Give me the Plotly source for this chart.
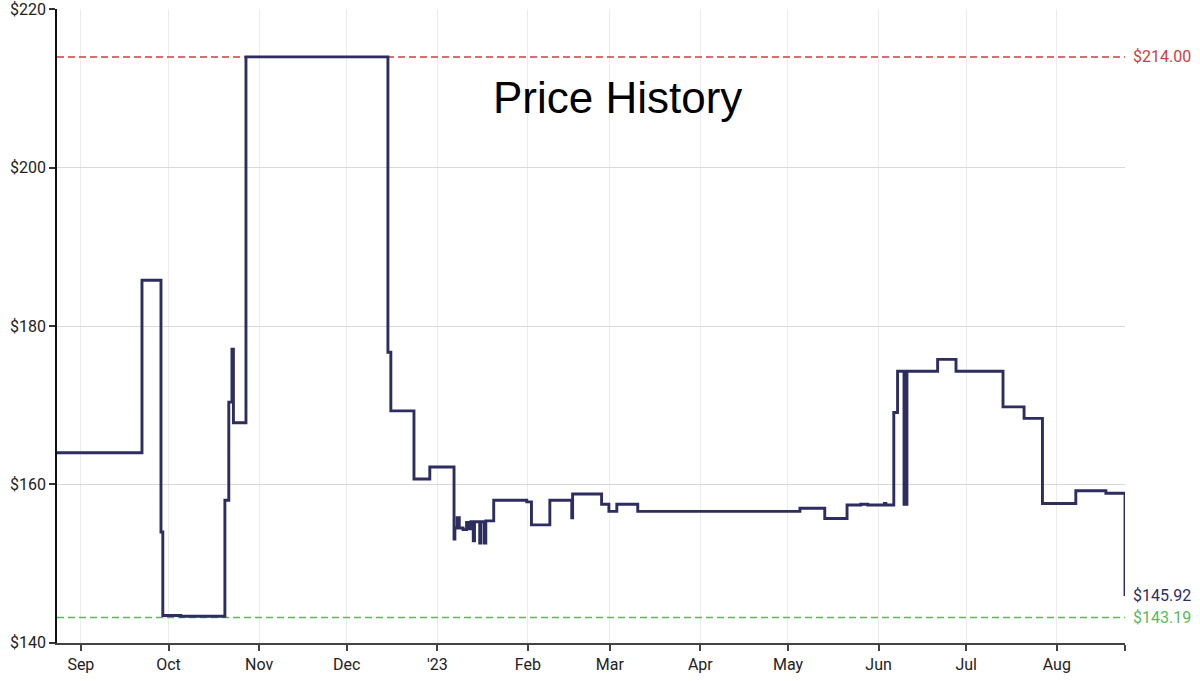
import plotly.graph_objects as go

# ---- data ----
dates = [
    "2022-08-23 20:00", "2022-09-21 22:00", "2022-09-28 10:00", "2022-09-29 01:00",
    "2022-10-05 05:00", "2022-10-20 07:00", "2022-10-21 15:00", "2022-10-22 17:00",
    "2022-10-23 05:00", "2022-10-27 12:00", "2022-12-15 02:00", "2022-12-16 02:00",
    "2022-12-24 00:00", "2022-12-29 10:00", "2023-01-06 17:00", "2023-01-07 00:00",
    "2023-01-07 19:00", "2023-01-08 12:00", "2023-01-09 19:00", "2023-01-11 00:00",
    "2023-01-11 22:00", "2023-01-12 12:00", "2023-01-13 07:00", "2023-01-13 17:00",
    "2023-01-15 12:00", "2023-01-15 22:00", "2023-01-17 02:00", "2023-01-17 14:00",
    "2023-01-20 07:00", "2023-01-31 14:00", "2023-02-02 05:00", "2023-02-08 12:00",
    "2023-02-16 00:00", "2023-02-16 07:00", "2023-02-26 05:00", "2023-02-28 17:00",
    "2023-03-03 10:00", "2023-03-10 14:00", "2023-05-05 02:00", "2023-05-13 14:00",
    "2023-05-21 05:00", "2023-05-25 22:00", "2023-05-28 07:00", "2023-06-03 00:00",
    "2023-06-03 12:00", "2023-06-06 05:00", "2023-06-07 12:00", "2023-06-09 17:00",
    "2023-06-10 00:00", "2023-06-10 09:00", "2023-06-10 17:00", "2023-06-21 05:00",
    "2023-06-27 12:00", "2023-07-13 14:00", "2023-07-20 19:00", "2023-07-27 02:00",
    "2023-08-07 12:00", "2023-08-17 19:00", "2023-08-24 08:00",
]
prices = [
    164.0, 185.8, 154.0, 143.45,
    143.35, 158.0, 170.4, 177.1,
    167.8, 214.0, 176.7, 169.3,
    160.7, 162.2, 153.1, 154.5,
    155.8, 154.5, 154.3, 155.2,
    154.4, 155.3, 152.9, 155.3,
    152.6, 155.3, 152.6, 155.4,
    158.0, 157.8, 154.9, 158.0,
    155.8, 158.8, 157.5, 156.6,
    157.5, 156.6, 157.0, 155.7,
    157.4, 157.5, 157.4, 157.6,
    157.4, 169.1, 174.3, 157.5,
    174.3, 157.5, 174.3, 175.8,
    174.3, 169.8, 168.35, 157.6,
    159.2, 158.9, 145.92,
]

highest_price = 214.00
lowest_price = 143.19
current_price = 145.92

tick_dates = ["2022-09-01", "2022-10-01", "2022-11-01", "2022-12-01", "2023-01-01",
              "2023-02-01", "2023-03-01", "2023-04-01", "2023-05-01", "2023-06-01",
              "2023-07-01", "2023-08-01", "2023-08-24 08:00"]
tick_labels = ["Sep", "Oct", "Nov", "Dec", "'23", "Feb", "Mar", "Apr", "May", "Jun",
               "Jul", "Aug", ""]
y_ticks = [140, 160, 180, 200, 220]
y_tick_labels = ["$140", "$160", "$180", "$200", "$220"]

x_start = "2022-08-23 20:00"
x_end = "2023-08-24 08:00"

LINE = "#2d2d5f"
RED = "#c9403f"
GREEN = "#5cb85c"

fig = go.Figure()

fig.add_trace(go.Scatter(
    x=[x_start, x_end], y=[highest_price, highest_price], mode="lines",
    line=dict(color=RED, width=1.5, dash="7px,4px"), hoverinfo="skip", showlegend=False))
fig.add_trace(go.Scatter(
    x=[x_start, x_end], y=[lowest_price, lowest_price], mode="lines",
    line=dict(color=GREEN, width=1.5, dash="7px,4px"), hoverinfo="skip", showlegend=False))

fig.add_trace(go.Scatter(
    x=dates, y=prices, mode="lines", line=dict(color=LINE, width=2.9, shape="hv"),
    showlegend=False))

tick_font = dict(family="Roboto", size=16, color="#222222")

fig.update_layout(
    width=1200, height=681,
    margin=dict(l=57, r=75, t=9, b=38, autoexpand=False),
    plot_bgcolor="white", paper_bgcolor="white",
    showlegend=False,
    xaxis=dict(
        type="date", range=[x_start, x_end], automargin=False,
        tickmode="array", tickvals=tick_dates, ticktext=tick_labels,
        showgrid=True, gridcolor="#ececec", gridwidth=1,
        showline=True, linecolor="#444444", linewidth=1.5,
        ticks="outside", ticklen=6, tickcolor="#444444", tickwidth=1.5,
        tickfont=tick_font, zeroline=False,
    ),
    yaxis=dict(
        range=[139.98, 220.05], automargin=False,
        tickmode="array", tickvals=y_ticks, ticktext=y_tick_labels,
        showgrid=True, gridcolor="#d9d9d9", gridwidth=1,
        showline=True, linecolor="#111111", linewidth=1.5,
        ticks="outside", ticklen=6, tickcolor="#333333", tickwidth=1.5,
        tickfont=tick_font, zeroline=False, ticklabeloverflow="allow",
    ),
)

fig.add_annotation(
    text="Price History", xref="paper", yref="paper", x=0.525, y=0.861,
    xanchor="center", yanchor="middle", showarrow=False,
    font=dict(family="Liberation Sans, Arial", size=44, color="#000000"))

for val, col in [(highest_price, RED), (current_price, LINE), (lowest_price, GREEN)]:
    fig.add_annotation(
        text=f"${val:.2f}", xref="paper", yref="y", x=1, y=val, xshift=6,
        xanchor="left", yanchor="middle", showarrow=False,
        font=dict(family="Roboto", size=16, color=col))

fig.write_html("out.html")
